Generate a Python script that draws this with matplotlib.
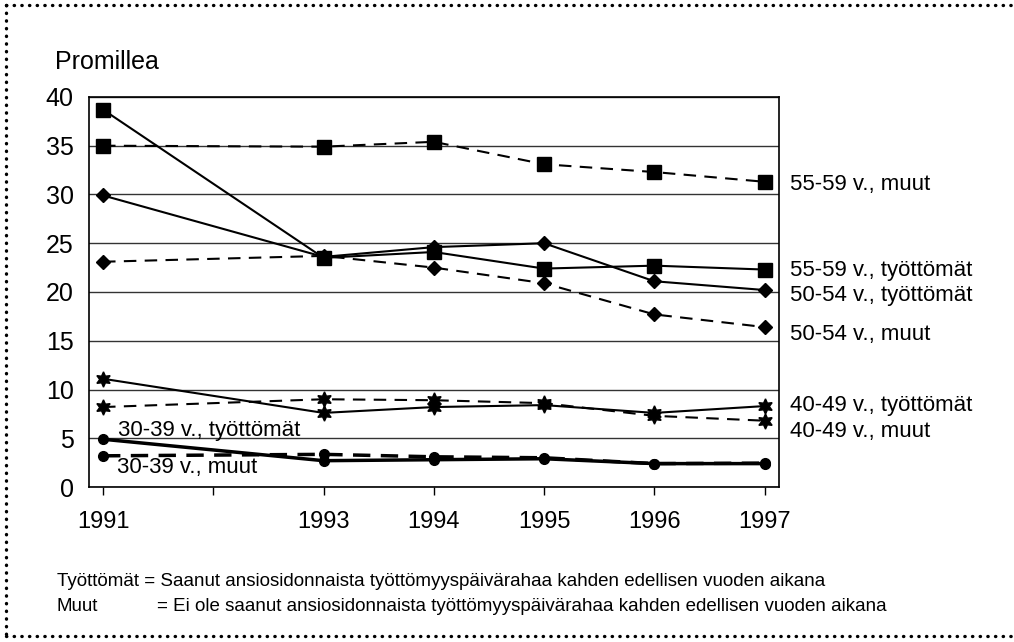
import matplotlib
matplotlib.use('Agg')
import matplotlib.pyplot as plt
from matplotlib.lines import Line2D

plt.rcParams['font.family'] = ['Liberation Sans', 'DejaVu Sans']

# vuodet ja sarjat (promillea)
years = [1991, 1993, 1994, 1995, 1996, 1997]
tick_years = [1991, 1992, 1993, 1994, 1995, 1996, 1997]
tick_labels = ['1991', '', '1993', '1994', '1995', '1996', '1997']

v55_59_tyott = [38.7, 23.5, 24.1, 22.4, 22.7, 22.3]
v55_59_muut = [35.0, 34.9, 35.4, 33.1, 32.3, 31.3]
v50_54_tyott = [29.9, 23.6, 24.6, 25.0, 21.1, 20.2]
v50_54_muut = [23.1, 23.7, 22.5, 20.9, 17.7, 16.4]
v40_49_tyott = [11.1, 7.6, 8.2, 8.4, 7.6, 8.3]
v40_49_muut = [8.2, 9.0, 8.9, 8.6, 7.3, 6.8]
v30_39_tyott = [4.9, 2.7, 2.8, 2.9, 2.4, 2.4]
v30_39_muut = [3.2, 3.35, 3.1, 3.0, 2.4, 2.45]

right_labels = ['55-59 v., muut', '55-59 v., työttömät', '50-54 v., työttömät',
                '50-54 v., muut', '40-49 v., työttömät', '40-49 v., muut']
right_label_y = [31.0, 22.2, 19.6, 15.6, 8.4, 5.7]

star = (6, 1, 0)
dash = (0, (6, 4))

fig = plt.figure(figsize=(10.14, 6.42), dpi=100)
ax = fig.add_axes([0.0878, 0.2414, 0.68, 0.6076])

# viivat
ax.plot(years, v55_59_tyott, color='black', lw=1.5, marker='s', ms=10)
ax.plot(years, v55_59_muut, color='black', lw=1.5, ls=dash, marker='s', ms=10)
ax.plot(years, v50_54_tyott, color='black', lw=1.5, marker='D', ms=7.5)
ax.plot(years, v50_54_muut, color='black', lw=1.5, ls=dash, marker='D', ms=7.5)
ax.plot(years, v40_49_tyott, color='black', lw=1.5, marker=star, ms=11)
ax.plot(years, v40_49_muut, color='black', lw=1.5, ls=dash, marker=star, ms=11)
ax.plot(years, v30_39_tyott, color='black', lw=2.5, marker='o', ms=7)
ax.plot(years, v30_39_muut, color='black', lw=2.5, ls=(0, (5, 3)), marker='o', ms=7)

ax.set_xlim(1990.873, 1997.127)
ax.set_ylim(0, 40)
ax.set_yticks(range(0, 41, 5))
ax.set_xticks(tick_years)
ax.set_xticklabels(tick_labels)
ax.tick_params(axis='y', length=0, pad=11, labelsize=18)
ax.tick_params(axis='x', length=6, direction='out', pad=11, labelsize=17, width=1)
ax.grid(axis='y', color='#333333', lw=1)
ax.set_axisbelow(True)
for s in ax.spines.values():
    s.set_linewidth(1.2)

# sarjojen nimet oikealla
for lab, yv in zip(right_labels, right_label_y):
    ax.text(1997.23, yv, lab, fontsize=16, va='center', ha='left', clip_on=False)
ax.text(1991.14, 5.8, '30-39 v., työttömät', fontsize=16, va='center', ha='left')
ax.text(1991.13, 2.0, '30-39 v., muut', fontsize=16, va='center', ha='left')

fig.text(0.054, 0.903, 'Promillea', fontsize=18, va='center', ha='left')

# selitteet
fig.text(0.056, 0.095, 'Työttömät = Saanut ansiosidonnaista työttömyyspäivärahaa kahden edellisen vuoden aikana',
         fontsize=13.5, va='center', ha='left')
fig.text(0.056, 0.056, 'Muut', fontsize=13.5, va='center', ha='left')
fig.text(0.155, 0.056, '= Ei ole saanut ansiosidonnaista työttömyyspäivärahaa kahden edellisen vuoden aikana',
         fontsize=13.5, va='center', ha='left')

# pisteviivareunus
dot = dict(color='black', lw=2.4, ls=(0, (0.1, 2.2)), dash_capstyle='round')
fig.add_artist(Line2D([0.006, 1.0], [0.992, 0.992], transform=fig.transFigure, **dot))
fig.add_artist(Line2D([0.006, 0.006], [0.992, 0.009], transform=fig.transFigure, **dot))
fig.add_artist(Line2D([0.006, 1.0], [0.009, 0.009], transform=fig.transFigure, **dot))

fig.savefig('out.png', dpi=100)
